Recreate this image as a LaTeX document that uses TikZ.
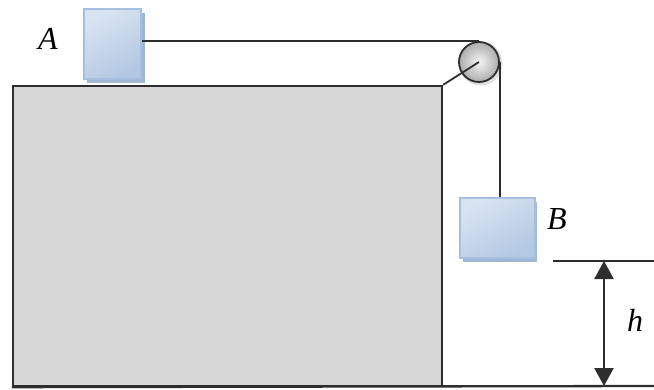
\documentclass[tikz,border=0pt]{standalone}
\usepackage{fontspec}
\setmainfont{Liberation Serif}
\usetikzlibrary{arrows.meta}
\definecolor{lineC}{HTML}{2E2E2E}
\definecolor{tableC}{HTML}{D7D7D7}
\definecolor{blockBorder}{HTML}{A6BFDE}
\definecolor{blockTop}{HTML}{D9E4F2}
\definecolor{blockBot}{HTML}{B3C8E3}
\definecolor{blockShadow}{HTML}{9FB6D4}
\tikzset{
  line/.style={draw=lineC, line width=2.3pt},
  tablebox/.style={line, fill=tableC, inner sep=0pt, minimum width=429pt, minimum height=300pt},
  massbox/.style={draw=blockBorder, line width=2pt, inner sep=0pt,
    top color=blockTop, bottom color=blockBot, shading angle=30},
  pulleywheel/.style={circle, draw=lineC, line width=1.8pt, inner sep=0pt, minimum size=40pt,
    inner color=white!92!gray, outer color=gray!65},
  lbl/.style={font=\fontsize{32}{36}\selectfont\itshape, inner sep=0pt},
  dim/.style={line, {Triangle[length=18pt,width=19pt]}-{Triangle[length=18pt,width=19pt]}}
}
\begin{document}
\begin{tikzpicture}[x=1pt,y=-1pt]
\useasboundingbox (0,0) rectangle (654,389);
% table
\node[tablebox] (T) at (227.5,236) {};
\coordinate (gE) at (654,386);
\draw[line] (T.south west) -- (gE);
% block A
\fill[blockShadow] (87,13) rectangle (145,83);
\node[massbox, minimum width=57pt, minimum height=70pt] (A) at (112.5,44) {};
% pulley
\fill[gray!25] (480.5,63.5) circle (22pt);
\node[pulleywheel] (P) at (479,62) {};
\draw[line, line width=1.8pt] (T.north east) -- (P.center);
% block B
\fill[blockShadow] (463,202) rectangle (537,262);
\node[massbox, minimum width=75pt, minimum height=60pt] (B) at (497.5,228) {};
% ropes
\draw[line] (P.north -| A.east) -- (P.north);
\draw[line] (P.east) -- (B.north -| P.east);
% labels
\node[lbl] (lA) at (48,39) {A};
\node[lbl] (lB) at (557,219) {B};
% height marker
\coordinate (hL) at (553,261);
\coordinate (hR) at (654,261);
\draw[line] (hL) -- (hR);
\coordinate (aT) at (604,261);
\coordinate (aB) at (604,386);
\draw[dim] (aT) -- (aB);
\node[lbl] (lh) at (635,320) {h};
\end{tikzpicture}
\end{document}
